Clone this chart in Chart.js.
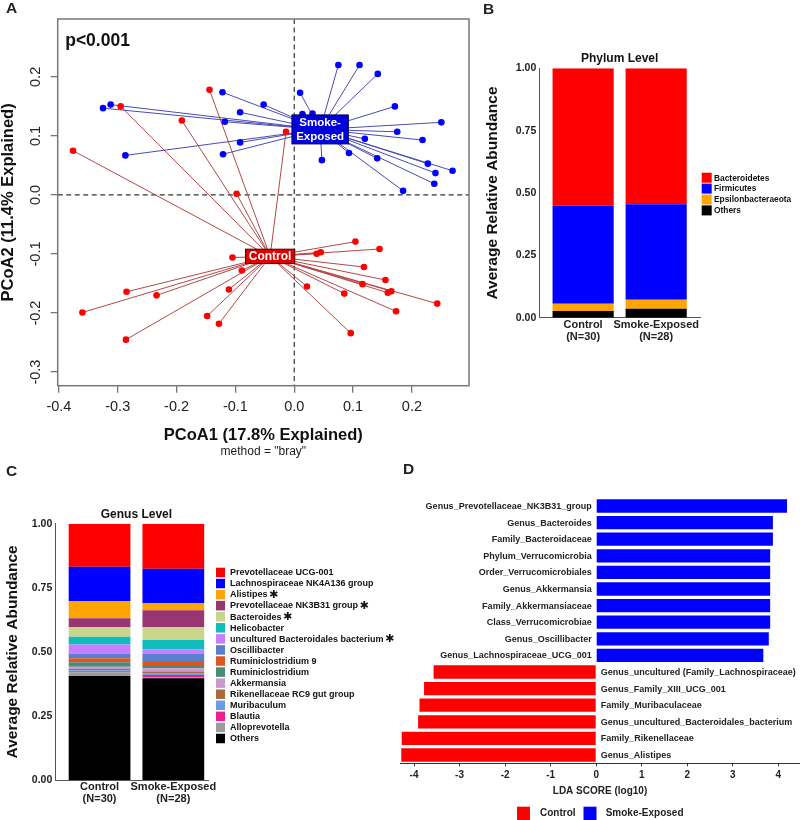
<!DOCTYPE html>
<html><head><meta charset="utf-8">
<script src="https://cdn.jsdelivr.net/npm/chart.js@4.4.1/dist/chart.umd.min.js"></script>
<style>
body{margin:0;background:#fff;}
#wrap{position:relative;width:800px;height:820px;overflow:hidden;background:#fff;font-family:"Liberation Sans",Arial,sans-serif;}
canvas{position:absolute;}
.lt{position:absolute;font-weight:bold;font-size:15.5px;line-height:15.5px;color:#222;}
</style></head>
<body><div id="wrap">
<canvas id="cA" width="480" height="462" style="left:0;top:0"></canvas>
<canvas id="cB" width="320" height="350" style="left:480px;top:0"></canvas>
<canvas id="cC" width="400" height="350" style="left:0;top:470px"></canvas>
<canvas id="cD" width="400" height="350" style="left:400px;top:470px"></canvas>
<div class="lt" style="left:6px;top:0px">A</div>
<div class="lt" style="left:483px;top:1px">B</div>
<div class="lt" style="left:6px;top:463px">C</div>
<div class="lt" style="left:403px;top:461px">D</div>
</div>
<script>
// ---------------- DATA ----------------
// Panel A: PCoA (Bray-Curtis)
const smokeX = [-0.325,-0.312,-0.122,-0.052,-0.092,-0.118,-0.287,-0.092,-0.121,0.010,0.075,0.111,0.142,0.014,0.031,0.171,0.175,0.120,0.093,0.047,0.141,0.185,0.250,0.218,0.227,0.269,0.240,0.238];
const smokeY = [0.147,0.153,0.174,0.153,0.140,0.124,0.067,0.089,0.069,0.173,0.220,0.220,0.205,0.137,0.138,0.150,0.107,0.095,0.071,0.059,0.062,0.007,0.123,0.093,0.053,0.041,0.037,0.019];
const controlX = [-0.144,-0.295,-0.191,-0.376,-0.098,-0.014,0.104,0.145,0.038,0.045,0.1185,0.155,0.116,0.159,0.165,0.173,0.085,0.0216,0.096,-0.105,-0.089,-0.285,-0.234,-0.360,-0.111,-0.148,-0.128,-0.286,0.243];
const controlY = [0.178,0.150,0.126,0.075,0.002,0.107,-0.079,-0.0915,-0.0995,-0.097,-0.122,-0.144,-0.151,-0.1656,-0.163,-0.197,-0.167,-0.155,-0.234,-0.106,-0.128,-0.164,-0.170,-0.199,-0.160,-0.205,-0.218,-0.245,-0.184];
const smokeCentroid = [0.044, 0.111];
const controlCentroid = [-0.041, -0.104];
const pcoaXTicks = [-0.4,-0.3,-0.2,-0.1,0.0,0.1,0.2];
const pcoaYTicks = [-0.3,-0.2,-0.1,0.0,0.1,0.2];

// Panel B: phylum level
const groups = ['Control','Smoke-Exposed'];
const groupN = ['(N=30)','(N=28)'];
const phylumNames = ['Bacteroidetes','Firmicutes','Epsilonbacteraeota','Others'];
const phylumBacteroidetes = [0.551, 0.545];
const phylumFirmicutes = [0.393, 0.383];
const phylumEpsilon = [0.029, 0.036];
const phylumOthers = [0.027, 0.036];
const abundanceTicks = [0, 0.25, 0.5, 0.75, 1.0];

// Panel C: genus level (legend order, top of bar first)
const genusNames = ['Prevotellaceae UCG-001','Lachnospiraceae NK4A136 group','Alistipes','Prevotellaceae NK3B31 group','Bacteroides','Helicobacter','uncultured Bacteroidales bacterium','Oscillibacter','Ruminiclostridium 9','Ruminiclostridium','Akkermansia','Rikenellaceae RC9 gut group','Muribaculum','Blautia','Alloprevotella','Others'];
const genusControl = [0.168,0.134,0.067,0.035,0.037,0.030,0.035,0.019,0.016,0.017,0.009,0.005,0.004,0.004,0.014,0.406];
const genusSmoke   = [0.176,0.133,0.029,0.066,0.050,0.036,0.016,0.030,0.015,0.013,0.013,0.007,0.006,0.008,0.005,0.397];
const genusSignificant = ['Alistipes','Prevotellaceae NK3B31 group','Bacteroides','uncultured Bacteroidales bacterium'];

// Panel D: LEfSe LDA scores (negative = Control, positive = Smoke-Exposed)
const ldaFeatures = ['Genus_Prevotellaceae_NK3B31_group','Genus_Bacteroides','Family_Bacteroidaceae','Phylum_Verrucomicrobia','Order_Verrucomicrobiales','Genus_Akkermansia','Family_Akkermansiaceae','Class_Verrucomicrobiae','Genus_Oscillibacter','Genus_Lachnospiraceae_UCG_001','Genus_uncultured (Family_Lachnospiraceae)','Genus_Family_XIII_UCG_001','Family_Muribaculaceae','Genus_uncultured_Bacteroidales_bacterium','Family_Rikenellaceae','Genus_Alistipes'];
const ldaScores = [4.19,3.88,3.88,3.82,3.82,3.82,3.82,3.82,3.79,3.67,-3.57,-3.78,-3.88,-3.91,-4.27,-4.28];
const ldaTicks = [-4,-3,-2,-1,0,1,2,3,4];

// ---------------- STYLE ----------------
const FONT = '"Liberation Sans", Arial, sans-serif';
Chart.defaults.font.family = FONT;
Chart.defaults.color = '#222';
const phylumColors = {'Bacteroidetes':'#ff0000','Firmicutes':'#0000ff','Epsilonbacteraeota':'#ffa500','Others':'#000000'};
const genusColors = ['#ff0000','#0000ff','#ffa500','#993572','#c9d48c','#10bcbc','#c77dff','#5b7fcf','#dd561f','#4b8a77','#cc99cc','#a86b3d','#6a9be8','#f01d8f','#9c9c9c','#000000'];

function pts(xs, ys){ return xs.map((x,i)=>({x:x, y:ys[i]})); }
function spokes(xs, ys, c){
  const out=[];
  xs.forEach((x,i)=>{ out.push({x:c[0],y:c[1]}); out.push({x:x,y:ys[i]}); out.push({x:c[0],y:null}); });
  return out;
}
function fixedTicks(list){ return s=>{ s.ticks = list.map(v=>({value:v})); }; }

// ---------------- PANEL A ----------------
function drawLabelBox(ctx, cx, cy, w, h, fill, stroke, lines, font, gap){
  ctx.save();
  ctx.setLineDash([]);
  ctx.fillStyle = fill; ctx.fillRect(cx-w/2, cy-h/2, w, h);
  ctx.strokeStyle = stroke; ctx.lineWidth = 1; ctx.strokeRect(cx-w/2, cy-h/2, w, h);
  ctx.fillStyle = '#fff'; ctx.font = font; ctx.textAlign='center'; ctx.textBaseline='middle';
  const n = lines.length;
  lines.forEach((t,i)=>{ ctx.fillText(t, cx, cy + (i-(n-1)/2)*gap + 0.5); });
  ctx.restore();
}
const pcoaDecor = {
  id:'pcoaDecor',
  beforeDatasetsDraw(chart){
    const {ctx, chartArea:a, scales:{x,y}} = chart;
    const x0 = x.getPixelForValue(0), y0 = y.getPixelForValue(0);
    ctx.save();
    ctx.strokeStyle='#333'; ctx.lineWidth=1.2; ctx.setLineDash([5,3.5]);
    ctx.beginPath(); ctx.moveTo(x0,a.top); ctx.lineTo(x0,a.bottom);
    ctx.moveTo(a.left,y0); ctx.lineTo(a.right,y0); ctx.stroke();
    ctx.restore();
  },
  afterDatasetsDraw(chart){
    const {ctx, chartArea:a, scales:{x,y}} = chart;
    drawLabelBox(ctx, x.getPixelForValue(smokeCentroid[0]), y.getPixelForValue(smokeCentroid[1]), 56.4, 29, '#0000dd', '#000050', ['Smoke-','Exposed'], 'bold 11.5px '+FONT, 14);
    drawLabelBox(ctx, x.getPixelForValue(controlCentroid[0]), y.getPixelForValue(controlCentroid[1]), 49.3, 14.4, '#dd0000', '#500000', ['Control'], 'bold 12px '+FONT, 0);
    ctx.save();
    ctx.setLineDash([]);
    ctx.strokeStyle='#777'; ctx.lineWidth=1.5;
    ctx.strokeRect(a.left, a.top, a.right-a.left, a.bottom-a.top);
    ctx.fillStyle='#111'; ctx.font='bold 17.5px '+FONT; ctx.textAlign='left'; ctx.textBaseline='middle';
    ctx.fillText('p<0.001', a.left+7.5, a.top+22);
    ctx.font='14.5px '+FONT; ctx.fillStyle='#222'; ctx.textAlign='center';
    pcoaYTicks.forEach(v=>{
      const py = y.getPixelForValue(v);
      ctx.save(); ctx.translate(a.left-22.2, py); ctx.rotate(-Math.PI/2);
      ctx.fillText(v.toFixed(1), 0, 0); ctx.restore();
    });
    ctx.font='12px '+FONT; ctx.fillStyle='#222';
    ctx.fillText('method = "bray"', (a.left+a.right)/2, 452);
    ctx.restore();
  }
};
new Chart(document.getElementById('cA'), {
  type:'scatter',
  data:{datasets:[
    {label:'Smoke-Exposed', data:pts(smokeX,smokeY), pointRadius:3.3, pointBorderWidth:0, pointBackgroundColor:'#0000ff', order:1},
    {label:'Control', data:pts(controlX,controlY), pointRadius:3.3, pointBorderWidth:0, pointBackgroundColor:'#ff0000', order:1},
    {label:'smoke spokes', data:spokes(smokeX,smokeY,smokeCentroid), showLine:true, spanGaps:false, pointRadius:0, borderColor:'#4a4ab4', borderWidth:1, order:2},
    {label:'control spokes', data:spokes(controlX,controlY,controlCentroid), showLine:true, spanGaps:false, pointRadius:0, borderColor:'#b44848', borderWidth:1, order:2}
  ]},
  options:{
    responsive:false, animation:false, devicePixelRatio:1,
    layout:{padding:{left:0, top:19, right:11, bottom:18.75}},
    plugins:{legend:{display:false}, tooltip:{enabled:false}},
    scales:{
      x:{type:'linear', bounds:'data', min:-0.402, max:0.297,
        afterBuildTicks:fixedTicks(pcoaXTicks),
        ticks:{callback:v=>Number(v).toFixed(1), font:{size:14.5}, color:'#222', padding:6, maxRotation:0, autoSkip:false},
        grid:{drawOnChartArea:false, drawTicks:true, tickLength:7, color:'#777', lineWidth:1.3},
        border:{display:false},
        title:{display:true, text:'PCoA1 (17.8% Explained)', font:{size:16.5, weight:'bold', lineHeight:1}, padding:0, color:'#111'},
        afterFit:s=>{ s.height = 57.55; }
      },
      y:{type:'linear', bounds:'data', min:-0.323, max:0.298,
        afterBuildTicks:fixedTicks(pcoaYTicks),
        ticks:{color:'rgba(0,0,0,0)', font:{size:14.5}},
        grid:{drawOnChartArea:false, drawTicks:true, tickLength:7, color:'#777', lineWidth:1.3},
        border:{display:false},
        title:{display:true, text:'PCoA2 (11.4% Explained)', font:{size:16.5, weight:'bold', lineHeight:1}, padding:0, color:'#111'},
        afterFit:s=>{ s.width = 57.7; }
      }
    }
  },
  plugins:[pcoaDecor]
});

// ---------------- PANELS B & C (stacked bars) ----------------
function barTitlePlugin(text, y){
  return {id:'barTitle', afterDraw(chart){
    const {ctx, scales:{x}} = chart;
    ctx.save(); ctx.font='bold 12px '+FONT; ctx.fillStyle='#111'; ctx.textAlign='center'; ctx.textBaseline='middle';
    ctx.fillText(text, x.getPixelForValue(1.5), y); ctx.restore();
  }};
}
function stackedOptions(padding, yWidth, xHeight, xMax, tickPad){
  return {
    responsive:false, animation:false, devicePixelRatio:1,
    layout:{padding:padding},
    plugins:{legend:{display:false}, tooltip:{enabled:false}},
    datasets:{bar:{barPercentage:0.837, categoryPercentage:1}},
    scales:{
      x:{type:'linear', bounds:'data', min:0.4, max:xMax, stacked:true, offset:false,
        afterBuildTicks:fixedTicks([1,2]),
        ticks:{callback:v=>[groups[Math.round(v)-1], groupN[Math.round(v)-1]], font:{size:11, weight:'bold', lineHeight:1.1}, color:'#222', padding:tickPad, maxRotation:0, autoSkip:false},
        grid:{display:false, offset:false, drawTicks:false},
        border:{display:true, color:'#555', width:1},
        afterFit:s=>{ s.height = xHeight; }
      },
      y:{type:'linear', bounds:'data', min:0, max:1, stacked:true,
        afterBuildTicks:fixedTicks(abundanceTicks),
        ticks:{callback:v=>Number(v).toFixed(2), font:{size:10.5, weight:'bold'}, color:'#222', padding:3},
        grid:{display:false, drawTicks:false},
        border:{display:true, color:'#555', width:1},
        title:{display:true, text:'Average Relative Abundance', font:{size:15.5, weight:'bold', lineHeight:1}, padding:0, color:'#111'},
        afterFit:s=>{ s.width = yWidth; }
      }
    }
  };
}
const phylumSeries = {'Bacteroidetes':phylumBacteroidetes,'Firmicutes':phylumFirmicutes,'Epsilonbacteraeota':phylumEpsilon,'Others':phylumOthers};
const phylumLegend = {id:'phylumLegend', afterDraw(chart){
  const ctx = chart.ctx; ctx.save();
  ctx.font='bold 8.4px '+FONT; ctx.textBaseline='middle'; ctx.textAlign='left';
  phylumNames.forEach((n,i)=>{
    const cy = 177.7 + i*10.9;
    ctx.fillStyle = phylumColors[n]; ctx.fillRect(221.7, cy-5, 10, 10);
    ctx.fillStyle = '#111'; ctx.fillText(n, 234, cy+0.5);
  });
  ctx.restore();
}};
new Chart(document.getElementById('cB'), {
  type:'bar',
  data:{datasets: phylumNames.slice().reverse().map(n=>({
    label:n, data: phylumSeries[n].map((v,i)=>({x:i+1, y:v})), backgroundColor: phylumColors[n], borderWidth:0
  }))},
  options: stackedOptions({left:5, top:68.3, right:100, bottom:0}, 54.3, 32.3, 2.6, 1.3),
  plugins:[barTitlePlugin('Phylum Level', 58.3), phylumLegend]
});

const genusLegend = {id:'genusLegend', afterDraw(chart){
  const ctx = chart.ctx; ctx.save();
  ctx.textBaseline='middle'; ctx.textAlign='left';
  genusNames.forEach((n,i)=>{
    const cy = 102.3 + i*11.07;
    ctx.fillStyle = genusColors[i]; ctx.fillRect(216, cy-4.6, 9, 9.5);
    ctx.fillStyle = '#111'; ctx.font='bold 9px '+FONT; ctx.fillText(n, 230, cy+0.5);
    if (genusSignificant.includes(n)) {
      const w = ctx.measureText(n).width;
      ctx.font='bold 11px "DejaVu Sans", sans-serif'; ctx.fillText('\u2731', 230+w+1.5, cy+0.5);
    }
  });
  ctx.restore();
}};
new Chart(document.getElementById('cC'), {
  type:'bar',
  data:{datasets: genusNames.map((n,i)=>({
    label:n, data:[{x:1, y:genusControl[i]},{x:2, y:genusSmoke[i]}], backgroundColor: genusColors[i], borderWidth:0
  })).reverse()},
  options: stackedOptions({left:5, top:53.7, right:192, bottom:0}, 50.3, 40, 2.47, 0.7),
  plugins:[barTitlePlugin('Genus Level', 44.3), genusLegend]
});

// ---------------- PANEL D (LDA) ----------------
const ldaDecor = {id:'ldaDecor', afterDraw(chart){
  const {ctx, scales:{x,y}} = chart;
  const x0 = x.getPixelForValue(0);
  ctx.save(); ctx.font='bold 9px '+FONT; ctx.fillStyle='#222'; ctx.textBaseline='middle';
  ldaFeatures.forEach((f,i)=>{
    const py = y.getPixelForValue(i);
    if (ldaScores[i] > 0) { ctx.textAlign='right'; ctx.fillText(f, x0-4.5, py+0.5); }
    else { ctx.textAlign='left'; ctx.fillText(f, x0+4.5, py+0.5); }
  });
  // legend
  ctx.font='bold 10px '+FONT; ctx.textAlign='left';
  ctx.fillStyle='#ff0000'; ctx.fillRect(117, 336.7, 13, 14);
  ctx.fillStyle='#222'; ctx.fillText('Control', 140, 343.5);
  ctx.fillStyle='#0000ff'; ctx.fillRect(183.5, 336.7, 13, 14);
  ctx.fillStyle='#222'; ctx.fillText('Smoke-Exposed', 205.7, 343.5);
  ctx.restore();
}};
new Chart(document.getElementById('cD'), {
  type:'bar',
  data:{labels: ldaFeatures, datasets:[
    {label:'Control', data: ldaScores.map(v=> v<0 ? v : null), backgroundColor:'#ff0000', borderWidth:0},
    {label:'Smoke-Exposed', data: ldaScores.map(v=> v>0 ? v : null), backgroundColor:'#0000ff', borderWidth:0}
  ]},
  options:{
    indexAxis:'y', responsive:false, animation:false, devicePixelRatio:1,
    layout:{padding:{left:0, top:27.7, right:0, bottom:20.7}},
    plugins:{legend:{display:false}, tooltip:{enabled:false}},
    datasets:{bar:{categoryPercentage:0.8, barPercentage:1}},
    scales:{
      x:{type:'linear', bounds:'data', min:-4.308, max:4.475, stacked:true,
        afterBuildTicks:fixedTicks(ldaTicks),
        ticks:{callback:v=>String(v), font:{size:10, weight:'bold'}, color:'#222', padding:2.7, maxRotation:0, autoSkip:false},
        grid:{drawOnChartArea:false, drawTicks:true, tickLength:3, color:'#333', lineWidth:1},
        border:{display:true, color:'#333', width:1},
        title:{display:true, text:'LDA SCORE (log10)', font:{size:10, weight:'bold', lineHeight:1.2}, padding:{top:0,bottom:1.6}, color:'#222'},
        afterFit:s=>{ s.height = 36; }
      },
      y:{type:'category', stacked:true, display:false}
    }
  },
  plugins:[ldaDecor]
});
</script>
</body></html>
